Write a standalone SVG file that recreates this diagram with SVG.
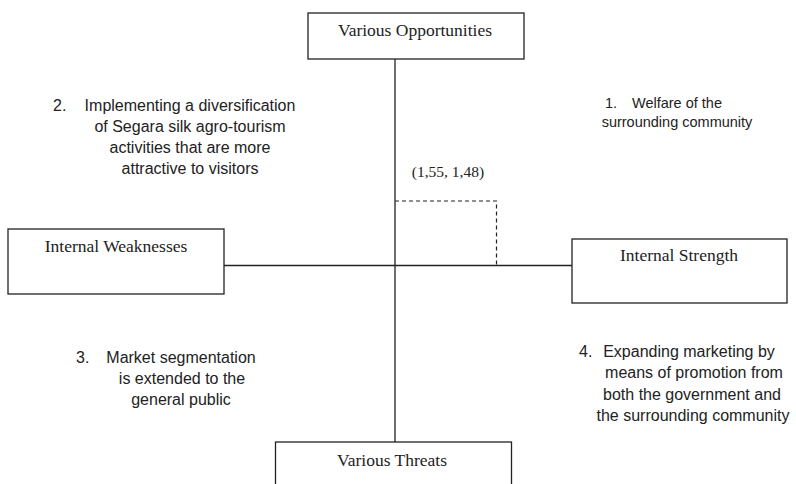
<svg xmlns="http://www.w3.org/2000/svg" width="796" height="484" viewBox="0 0 796 484">
<style>
.box{fill:#fff;stroke:#222;stroke-width:1.3}
.lbl{font-family:"Liberation Serif","Times New Roman",serif;font-size:17.5px;fill:#222;text-anchor:middle}
.note{font-family:"Liberation Sans",Arial,sans-serif;font-size:16px;fill:#222}
.mid{text-anchor:middle}
.ln{stroke:#222;stroke-width:1.3;fill:none}
.dash{stroke:#222;stroke-width:1.2;fill:none;stroke-dasharray:4 3}
</style>
<rect width="796" height="484" fill="#fff"/>
<g id="connectors">
<line class="ln" x1="395" y1="59" x2="395" y2="442"/>
<line class="ln" x1="224" y1="265.5" x2="572" y2="265.5"/>
<polyline class="dash" points="395,201 496.5,201 496.5,265"/>
</g>
<g id="opportunities">
<rect class="box" x="308" y="13" width="216" height="46"/>
<text class="lbl" x="415" y="36">Various Opportunities</text>
</g>
<g id="weaknesses">
<rect class="box" x="8" y="229" width="216" height="65"/>
<text class="lbl" x="116" y="252">Internal Weaknesses</text>
</g>
<g id="strength">
<rect class="box" x="572" y="239" width="215" height="64"/>
<text class="lbl" x="679" y="261">Internal Strength</text>
</g>
<g id="threats">
<rect class="box" x="275.5" y="442" width="236" height="50"/>
<text class="lbl" x="392" y="466">Various Threats</text>
</g>
<g id="point">
<text class="lbl" x="448" y="177" style="font-size:15.5px">(1,55, 1,48)</text>
</g>
<g id="strategy1" class="note" style="font-size:14.5px">
<text x="605" y="108">1.</text>
<text x="677" y="108" class="mid">Welfare of the</text>
<text x="677" y="127" class="mid">surrounding community</text>
</g>
<g id="strategy2" class="note">
<text x="53" y="111">2.</text>
<text x="190" y="111" class="mid">Implementing a diversification</text>
<text x="190" y="132" class="mid">of Segara silk agro-tourism</text>
<text x="190" y="153" class="mid">activities that are more</text>
<text x="190" y="174" class="mid">attractive to visitors</text>
</g>
<g id="strategy3" class="note">
<text x="76" y="363">3.</text>
<text x="181" y="363" class="mid">Market segmentation</text>
<text x="182" y="384" class="mid">is extended to the</text>
<text x="181" y="405" class="mid">general public</text>
</g>
<g id="strategy4" class="note">
<text x="579" y="357">4.</text>
<text x="689" y="357" class="mid">Expanding marketing by</text>
<text x="694" y="378" class="mid">means of promotion from</text>
<text x="692" y="400" class="mid">both the government and</text>
<text x="693" y="421" class="mid">the surrounding community</text>
</g>
</svg>
